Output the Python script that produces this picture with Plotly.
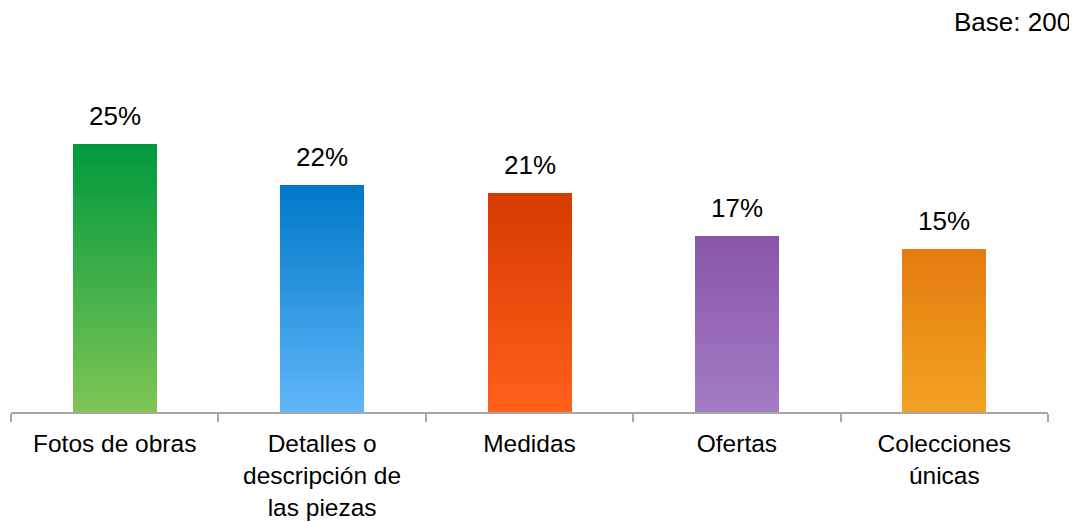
import plotly.graph_objects as go

# data
categories = ['Fotos de obras', 'Detalles o<br>descripción de<br>las piezas', 'Medidas',
              'Ofertas', 'Colecciones<br>únicas']
values = [25.3, 21.4, 20.7, 16.6, 15.4]
labels = ['25%', '22%', '21%', '17%', '15%']
base_text = 'Base: 200'

# top / bottom colour of every bar's vertical gradient
top_colors = [(0, 154, 61), (0, 120, 200), (214, 58, 0), (138, 85, 168), (228, 124, 16)]
bottom_colors = [(126, 196, 84), (96, 182, 248), (255, 96, 26), (162, 124, 198), (242, 162, 34)]

STEPS = 60


def mix(c1, c2, t):
    return 'rgb(%d,%d,%d)' % tuple(round(a + (b - a) * t) for a, b in zip(c1, c2))


fig = go.Figure()

# stack thin slices to fake the gradient fill
for k in range(STEPS):
    t = k / (STEPS - 1)
    fig.add_trace(go.Bar(
        x=categories,
        y=[v / STEPS for v in values],
        marker=dict(color=[mix(b, tp, t) for b, tp in zip(bottom_colors, top_colors)],
                    line=dict(width=0)),
        hoverinfo='skip',
        showlegend=False,
    ))

# value labels above bars
for cat, v, lab in zip(categories, values, labels):
    fig.add_annotation(x=cat, y=v, text=lab, showarrow=False, yanchor='bottom',
                       yshift=11, font=dict(size=26, color='#000000'))

fig.add_annotation(xref='paper', yref='paper', x=1.024, y=1.108, text=base_text,
                   showarrow=False, xanchor='right', yanchor='middle',
                   font=dict(size=26, color='#000000'))

# page body has an 8px margin, so the figure is 8px smaller and shifted
fig.update_layout(
    barmode='stack',
    bargap=0.595,
    width=1069, height=514,
    margin=dict(l=3, r=29, t=52, b=110),
    paper_bgcolor='white', plot_bgcolor='white',
    font=dict(family='Liberation Sans, Arial, sans-serif', size=26, color='#000000'),
)
fig.update_xaxes(showline=True, linecolor='#A6A6A6', linewidth=2, automargin=False,
                 ticks='outside', tickson='boundaries', ticklen=8, tickwidth=2,
                 tickcolor='#A6A6A6', showgrid=False, tickfont=dict(size=24.5),
                 ticklabelstandoff=9)
fig.update_yaxes(range=[0, 33.2], visible=False, showgrid=False, zeroline=False)

fig.write_html('out.html')
